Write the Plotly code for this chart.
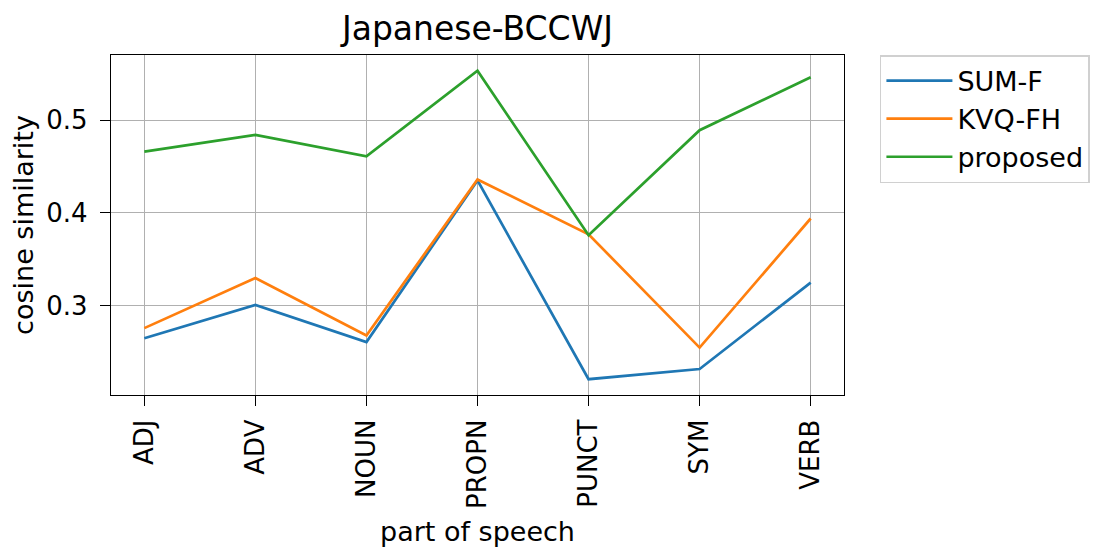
import plotly.graph_objects as go

pos_tags = ["ADJ", "ADV", "NOUN", "PROPN", "PUNCT", "SYM", "VERB"]
sum_f = [0.265, 0.301, 0.261, 0.435, 0.221, 0.232, 0.325]
kvq_fh = [0.276, 0.330, 0.268, 0.436, 0.377, 0.255, 0.394]
proposed = [0.466, 0.484, 0.461, 0.553, 0.376, 0.489, 0.546]
y_ticks = [0.3, 0.4, 0.5]

series = [("SUM-F", sum_f, "#1f77b4"), ("KVQ-FH", kvq_fh, "#ff7f0e"), ("proposed", proposed, "#2ca02c")]

fig = go.Figure()
for name, vals, color in series:
    fig.add_trace(go.Scatter(x=list(range(len(pos_tags))), y=vals, mode="lines", name=name,
                             line=dict(color=color, width=2.7)))

# page body has an 8px margin, so the figure is shrunk to fit the 1103x547 window
W, H = 1095, 539
axis_common = dict(showgrid=True, gridcolor="#b0b0b0", gridwidth=1.2,
                   showline=True, mirror=True, linecolor="black", linewidth=1.3,
                   ticks="outside", ticklen=10, tickcolor="black", zeroline=False,
                   tickfont=dict(size=26), automargin=False)
fig.update_layout(
    width=W, height=H,
    margin=dict(l=103, r=259, t=47, b=152),
    plot_bgcolor="white", paper_bgcolor="white",
    font=dict(family="DejaVu Sans", size=22.5, color="black"),
    title=dict(text="Japanese-BCCWJ", x=469.5 / W, xanchor="center",
               y=1 - 20 / H, yanchor="middle", font=dict(size=33)),
    legend=dict(x=1.049, y=1.0, xanchor="left", yanchor="top", bordercolor="#d0d0d0", borderwidth=1.5,
                font=dict(size=27), itemwidth=66),
    xaxis=dict(range=[-0.3, 6.3], tickmode="array", tickvals=list(range(len(pos_tags))), ticktext=pos_tags,
               tickangle=-90, ticklabelstandoff=3,
               title=dict(text="part of speech", standoff=22), **axis_common),
    yaxis=dict(range=[0.204, 0.570], tickmode="array", tickvals=y_ticks, ticktext=["0.3", "0.4", "0.5"],
               ticklabelstandoff=7,
               title=dict(text="cosine similarity", standoff=8), **axis_common),
)

fig.write_html("out.html")
